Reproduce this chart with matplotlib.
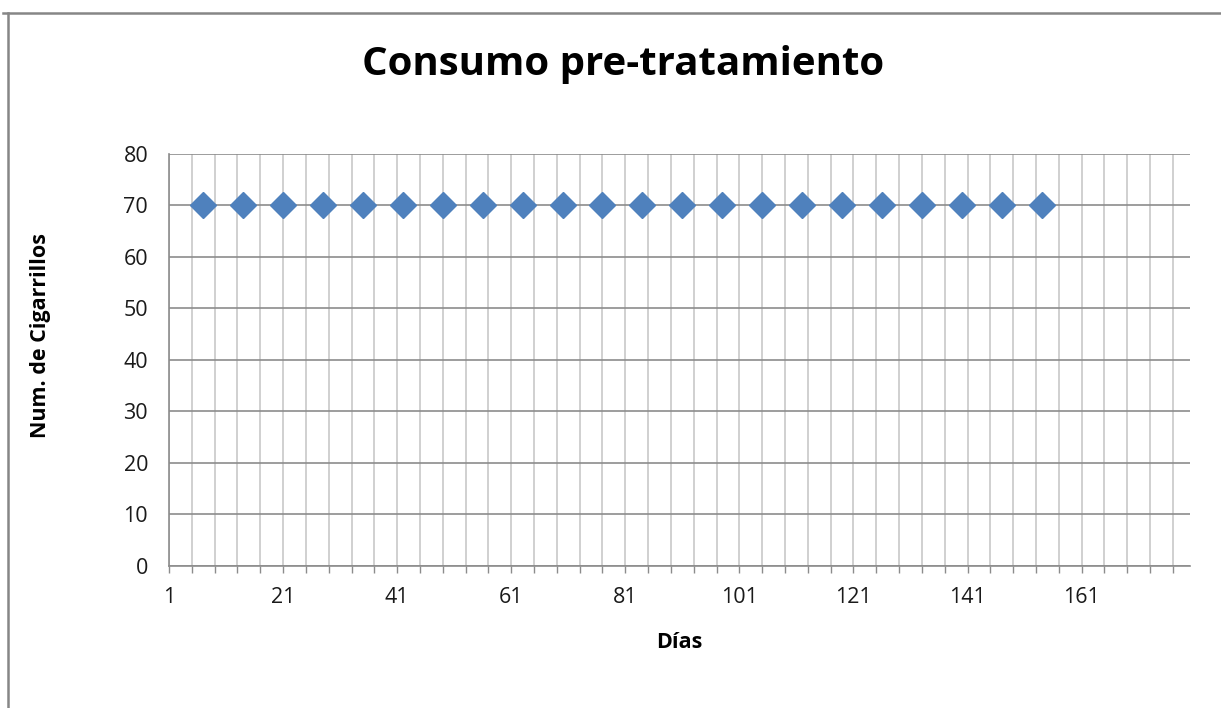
import matplotlib
matplotlib.use("Agg")
import matplotlib.pyplot as plt
from matplotlib.lines import Line2D
import numpy as np

# Data
days = [7, 14, 21, 28, 35, 42, 49, 56, 63, 70, 77, 84, 91, 98, 105, 112, 119, 126, 133, 140, 147, 154]
cigarettes = [70] * 22
x_labels = [1, 21, 41, 61, 81, 101, 121, 141, 161]
y_ticks = [0, 10, 20, 30, 40, 50, 60, 70, 80]

title = "Consumo pre-tratamiento"
xlabel = "Días"
ylabel = "Num. de Cigarrillos"

W, H = 1221, 708
fig = plt.figure(figsize=(W / 100, H / 100), dpi=100)
fig.patch.set_facecolor("white")

left, right, top, bottom = 169, 1190, 153.5, 566
ax = fig.add_axes([left / W, 1 - bottom / H, (right - left) / W, (bottom - top) / H])

font = "Open Sans"

ax.plot(days, cigarettes, linestyle="none", marker="D", markersize=13.5,
        color="#4F81BD", markeredgecolor="#4F81BD", zorder=5, clip_on=False)

ax.set_xlim(1, 180)
ax.set_ylim(0, 80)
ax.set_xticks(x_labels)
ax.set_xticklabels([str(v) for v in x_labels], fontsize=15.5, family=font, color="#1a1a1a")
ax.set_xticks(np.arange(1, 178, 4), minor=True)
ax.set_yticks(y_ticks)
ax.set_yticklabels([str(v) for v in y_ticks], fontsize=15.5, family=font, color="#1a1a1a")

ax.tick_params(axis="x", which="both", direction="out", length=5, width=1, color="#8C8C8C", pad=10)
ax.tick_params(axis="y", which="both", length=0, pad=15)

ax.grid(True, axis="x", which="both", color="#C8C8C8", linewidth=1.2)
ax.grid(True, axis="y", which="major", color="#8C8C8C", linewidth=1.2)
ax.set_axisbelow(True)

for s in ["top", "right"]:
    ax.spines[s].set_visible(False)
for s in ["left", "bottom"]:
    ax.spines[s].set_color("#8C8C8C")
    ax.spines[s].set_linewidth(1.2)

fig.text(623 / W, 1 - 65 / H, title, ha="center", va="center", fontsize=29,
         fontweight="bold", family=font, color="black")
fig.text(679 / W, 1 - 643 / H, xlabel, ha="center", va="center", fontsize=15.5,
         fontweight="bold", family=font, color="black")
fig.text(41 / W, 1 - 335 / H, ylabel, ha="center", va="center", rotation=90,
         fontsize=15.5, fontweight="bold", family=font, color="black")

# outer chart border (cropped at right/bottom)
fig.add_artist(Line2D([3 / W, 1], [1 - 13 / H, 1 - 13 / H], transform=fig.transFigure,
                      color="#868686", linewidth=1.8))
fig.add_artist(Line2D([8 / W, 8 / W], [1 - 13 / H, 0], transform=fig.transFigure,
                      color="#868686", linewidth=1.8))

fig.savefig("out.png", dpi=100, facecolor="white")
